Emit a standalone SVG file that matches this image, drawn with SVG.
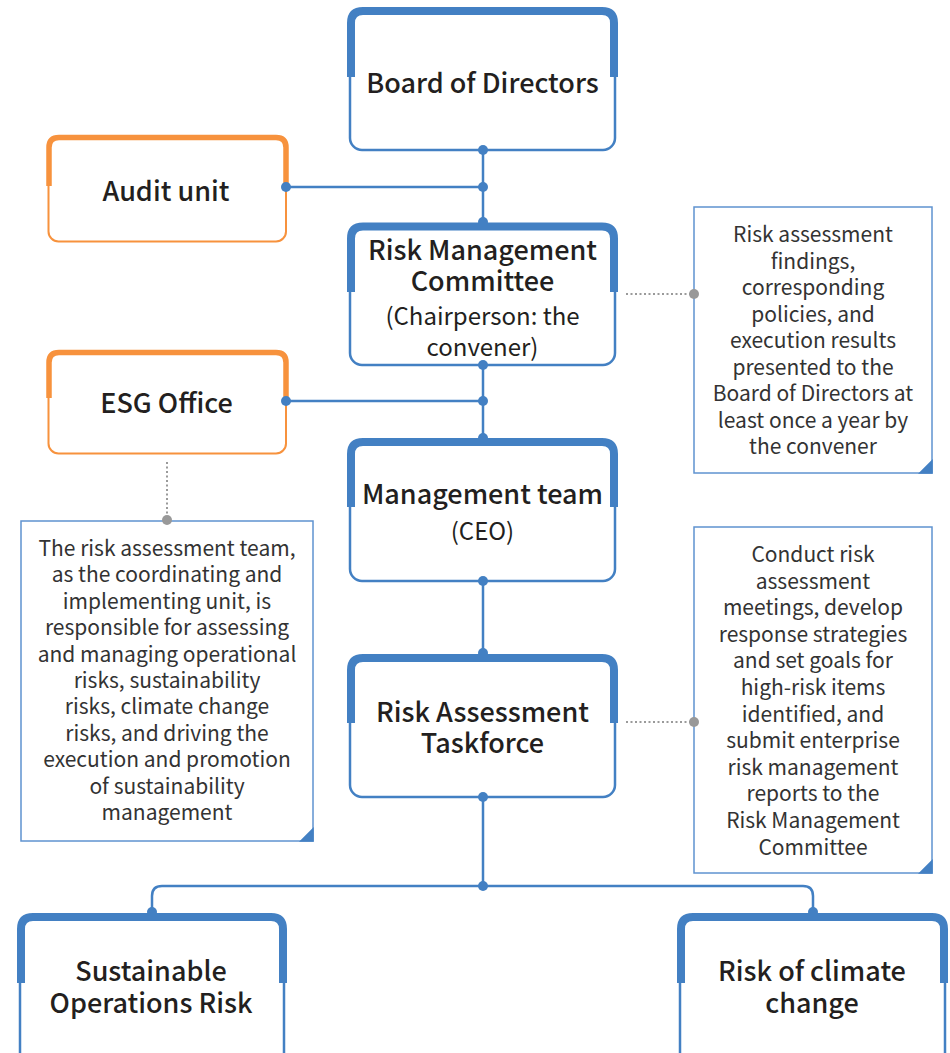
<svg xmlns="http://www.w3.org/2000/svg" width="950" height="1053" viewBox="0 0 950 1053">
<defs>
<style>
.box{fill:#fff;stroke:#4380c3;stroke-width:2.5}
.thick{fill:none;stroke:#4380c3;stroke-width:8}
.obox{fill:#fff;stroke:#f7923d;stroke-width:2}
.othick{fill:none;stroke:#f7923d;stroke-width:5.5}
.line{fill:none;stroke:#4380c3;stroke-width:2.5}
.dot{fill:#4380c3}
.gdot{fill:#999}
.dash{fill:none;stroke:#9a9a9a;stroke-width:2;stroke-dasharray:2 2.5}
.note{fill:#fff;stroke:#5f93d0;stroke-width:1.5}
.tri{fill:#4380c3}
.t{font-family:"Noto Sans CJK SC","Noto Sans",sans-serif;font-weight:500;font-size:27px;fill:#231f20;text-anchor:middle}
.s{font-family:"Noto Sans CJK SC","Noto Sans",sans-serif;font-weight:400;font-size:24px;fill:#231f20;text-anchor:middle}
.n{font-family:"Noto Sans CJK SC","Noto Sans",sans-serif;font-weight:400;font-size:21px;fill:#333;text-anchor:middle}
</style>
</defs>
<g id="board">
<rect class="box" x="350" y="11" width="265" height="139" rx="12"/>
<path class="thick" d="M351,77 V23 Q351,11 363,11 H602 Q614,11 614,23 V77"/>
<text class="t" x="482.5" y="93" font-size="28">Board of Directors</text>
</g>
<g id="audit">
<rect class="obox" x="48.5" y="137.5" width="237.5" height="104" rx="10"/>
<path class="othick" d="M49,186 V147.5 Q49,137.5 59,137.5 H276 Q286,137.5 286,147.5 V186"/>
<text class="t" x="166" y="201">Audit unit</text>
</g>
<g id="rmc">
<rect class="box" x="350" y="226.5" width="265" height="138.5" rx="12"/>
<path class="thick" d="M351,292 V238.5 Q351,226.5 363,226.5 H602 Q614,226.5 614,238.5 V292"/>
<text class="t" x="482.5" y="260">Risk Management</text>
<text class="t" x="482.5" y="291">Committee</text>
<text class="s" x="482.5" y="325">(Chairperson: the</text>
<text class="s" x="482.5" y="356">convener)</text>
</g>
<g id="esg">
<rect class="obox" x="48.5" y="352.5" width="237.5" height="101" rx="10"/>
<path class="othick" d="M49,398 V362.5 Q49,352.5 59,352.5 H276 Q286,352.5 286,362.5 V398"/>
<text class="t" x="166.5" y="413">ESG Office</text>
</g>
<g id="mgmt">
<rect class="box" x="350" y="442" width="265" height="139" rx="12"/>
<path class="thick" d="M351,507 V454 Q351,442 363,442 H602 Q614,442 614,454 V507"/>
<text class="t" x="482.5" y="504">Management team</text>
<text class="s" x="482.5" y="540">(CEO)</text>
</g>
<g id="taskforce">
<rect class="box" x="350" y="658" width="265" height="139" rx="12"/>
<path class="thick" d="M351,723 V670 Q351,658 363,658 H602 Q614,658 614,670 V723"/>
<text class="t" x="482.5" y="722">Risk Assessment</text>
<text class="t" x="482.5" y="753">Taskforce</text>
</g>
<g id="sustainable">
<rect class="box" x="20" y="917" width="264" height="150" rx="12"/>
<path class="thick" d="M21,983 V929 Q21,917 33,917 H271 Q283,917 283,929 V983"/>
<text class="t" x="151" y="981">Sustainable</text>
<text class="t" x="151" y="1013">Operations Risk</text>
</g>
<g id="climate">
<rect class="box" x="680" y="917" width="265" height="150" rx="12"/>
<path class="thick" d="M681,983 V929 Q681,917 693,917 H932 Q944,917 944,929 V983"/>
<text class="t" x="812" y="981">Risk of climate</text>
<text class="t" x="812" y="1013">change</text>
</g>
<g id="note1">
<rect class="note" x="694" y="207" width="238" height="266"/>
<polygon class="tri" points="932.75,459 932.75,473.75 918,473.75"/>
<text class="n" x="813" y="242">Risk assessment</text>
<text class="n" x="813" y="268.5">findings,</text>
<text class="n" x="813" y="295">corresponding</text>
<text class="n" x="813" y="321.5">policies, and</text>
<text class="n" x="813" y="348">execution results</text>
<text class="n" x="813" y="374.5">presented to the</text>
<text class="n" x="813" y="401">Board of Directors at</text>
<text class="n" x="813" y="427.5">least once a year by</text>
<text class="n" x="813" y="454">the convener</text>
</g>
<g id="note2">
<rect class="note" x="21" y="521" width="292" height="320"/>
<polygon class="tri" points="313.75,827 313.75,841.75 299,841.75"/>
<text class="n" x="167" y="556">The risk assessment team,</text>
<text class="n" x="167" y="582.4">as the coordinating and</text>
<text class="n" x="167" y="608.8">implementing unit, is</text>
<text class="n" x="167" y="635.2">responsible for assessing</text>
<text class="n" x="167" y="661.6">and managing operational</text>
<text class="n" x="167" y="688">risks, sustainability</text>
<text class="n" x="167" y="714.4">risks, climate change</text>
<text class="n" x="167" y="740.8">risks, and driving the</text>
<text class="n" x="167" y="767.2">execution and promotion</text>
<text class="n" x="167" y="793.6">of sustainability</text>
<text class="n" x="167" y="820">management</text>
</g>
<g id="note3">
<rect class="note" x="694" y="527" width="238" height="346"/>
<polygon class="tri" points="932.75,859 932.75,873.75 918,873.75"/>
<text class="n" x="813" y="562">Conduct risk</text>
<text class="n" x="813" y="588.6">assessment</text>
<text class="n" x="813" y="615.2">meetings, develop</text>
<text class="n" x="813" y="641.8">response strategies</text>
<text class="n" x="813" y="668.4">and set goals for</text>
<text class="n" x="813" y="695">high-risk items</text>
<text class="n" x="813" y="721.6">identified, and</text>
<text class="n" x="813" y="748.2">submit enterprise</text>
<text class="n" x="813" y="774.8">risk management</text>
<text class="n" x="813" y="801.4">reports to the</text>
<text class="n" x="813" y="828">Risk Management</text>
<text class="n" x="813" y="854.6">Committee</text>
</g>
<g id="connectors">
<line class="line" x1="483" y1="150" x2="483" y2="224"/>
<line class="line" x1="286" y1="187" x2="483" y2="187"/>
<line class="line" x1="483" y1="365" x2="483" y2="440"/>
<line class="line" x1="286" y1="401" x2="483" y2="401"/>
<line class="line" x1="483" y1="581" x2="483" y2="656"/>
<line class="line" x1="483" y1="797" x2="483" y2="886"/>
<path class="line" d="M152,913 V896 Q152,886 162,886 H803 Q813,886 813,896 V913"/>
<line class="dash" x1="626" y1="294" x2="692" y2="294"/>
<line class="dash" x1="626" y1="722" x2="692" y2="722"/>
<line class="dash" x1="167" y1="462" x2="167" y2="518"/>
<circle class="dot" cx="483" cy="150" r="5"/>
<circle class="dot" cx="483" cy="187" r="5"/>
<circle class="dot" cx="286" cy="187" r="5"/>
<circle class="dot" cx="483" cy="222" r="5"/>
<circle class="dot" cx="483" cy="365" r="5"/>
<circle class="dot" cx="483" cy="401" r="5"/>
<circle class="dot" cx="286" cy="401" r="5"/>
<circle class="dot" cx="483" cy="438" r="5"/>
<circle class="dot" cx="483" cy="581" r="5"/>
<circle class="dot" cx="483" cy="653" r="5"/>
<circle class="dot" cx="483" cy="797" r="5"/>
<circle class="dot" cx="483" cy="886" r="5"/>
<circle class="dot" cx="152" cy="912" r="5"/>
<circle class="dot" cx="813" cy="912" r="5"/>
<circle class="gdot" cx="694" cy="294" r="5"/>
<circle class="gdot" cx="694" cy="722" r="5"/>
<circle class="gdot" cx="167" cy="520" r="5"/>
</g>
</svg>
